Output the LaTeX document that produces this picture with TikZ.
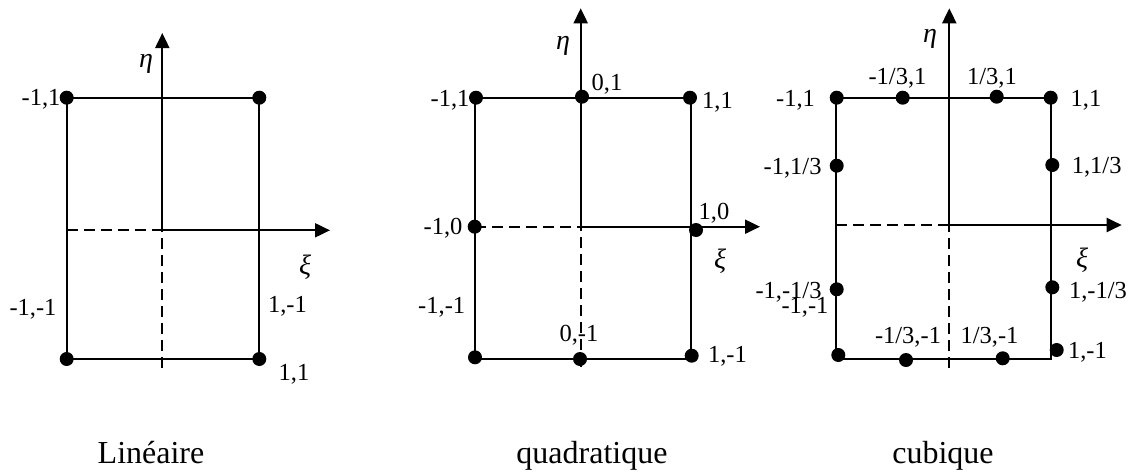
\documentclass[tikz,border=0pt]{standalone}
\usepackage{fontspec}
\setmainfont{Liberation Serif}
\usetikzlibrary{arrows.meta}
\begin{document}
\begin{tikzpicture}[x=1pt,y=-1pt,
  edge/.style={line width=2pt},
  dashedge/.style={line width=1.8pt, dash pattern=on 11pt off 6pt},
  axis/.style={line width=2pt,-{Triangle[length=15pt,width=14pt]}},
  dot/.style={circle,fill=black,inner sep=0pt,minimum size=14pt},
  lab/.style={font=\fontsize{24.5}{26}\selectfont,inner sep=0pt,anchor=base},
  labe/.style={lab,anchor=base east},
  captxt/.style={font=\fontsize{32}{36}\selectfont,inner sep=0pt,anchor=base},
  greek/.style={font=\fontsize{28}{30}\selectfont\itshape,inner sep=0pt,anchor=base}]
\useasboundingbox (0,0) rectangle (1138,474);

% ---------- Linéaire ----------
\coordinate (A1) at (66.7,97.7);
\coordinate (B1) at (259.3,97.7);
\coordinate (C1) at (259.3,359);
\coordinate (D1) at (66.7,359);
\draw[edge] (A1) -- (B1) -- (C1) -- (D1) -- cycle;
\coordinate (O1) at (162.3,230.3);
\coordinate (Yb1) at (162.3,368);
\coordinate (Yt1) at (162.3,33);
\coordinate (Xl1) at (66.7,230.3);
\coordinate (Xr1) at (330,230.3);
\draw[dashedge] (Yb1) -- (O1);
\draw[axis] (O1) -- (Yt1);
\draw[dashedge] (Xl1) -- (O1);
\draw[axis] (O1) -- (Xr1);
\node[dot] (p1a) at (A1) {};
\node[dot] (p1b) at (B1) {};
\node[dot] (p1c) at (C1) {};
\node[dot] (p1d) at (D1) {};
\node[lab] (l1a) at (41,105) {-1,1};
\node[lab] (l1b) at (33,315) {-1,-1};
\node[lab] (l1c) at (287.5,312) {1,-1};
\node[lab] (l1d) at (294,380) {1,1};
\node[greek] (eta1) at (146,67) {η};
\node[greek] (xi1) at (305,274) {ξ};
\node[captxt] (cap1) at (151,463) {Linéaire};

% ---------- quadratique ----------
\coordinate (A2) at (475,97.7);
\coordinate (B2) at (690.7,97.7);
\coordinate (C2) at (690.7,359);
\coordinate (D2) at (475,359);
\draw[edge] (A2) -- (B2) -- (C2) -- (D2) -- cycle;
\coordinate (O2) at (580.7,226.7);
\coordinate (Yb2) at (580.7,367);
\coordinate (Yt2) at (580.7,8.3);
\coordinate (Xl2) at (475,226.7);
\coordinate (Xr2) at (760,226.7);
\draw[dashedge] (Yb2) -- (O2);
\draw[axis] (O2) -- (Yt2);
\draw[dashedge] (Xl2) -- (O2);
\draw[axis] (O2) -- (Xr2);
\node[dot] (p2a) at (476,97.7) {};
\node[dot] (p2b) at (582,96.7) {};
\node[dot] (p2c) at (690,97.7) {};
\node[dot] (p2d) at (474.7,226.7) {};
\node[dot] (p2e) at (696,230) {};
\node[dot] (p2f) at (580,359) {};
\node[dot] (p2g) at (475,357.3) {};
\node[dot] (p2h) at (691.7,355.7) {};
\node[lab] (l2a) at (450,106) {-1,1};
\node[lab] (l2b) at (607,90) {0,1};
\node[lab] (l2c) at (717.5,108) {1,1};
\node[lab] (l2d) at (443,234.7) {-1,0};
\node[lab] (l2e) at (714,219.7) {1,0};
\node[lab] (l2f) at (441.7,313) {-1,-1};
\node[lab] (l2g) at (579,341) {0,-1};
\node[lab] (l2h) at (727.5,362) {1,-1};
\node[greek] (eta2) at (563,49) {η};
\node[greek] (xi2) at (720,268) {ξ};
\node[captxt] (cap2) at (592,463) {quadratique};

% ---------- cubique ----------
\coordinate (A3) at (836,97.7);
\coordinate (B3) at (1050.7,97.7);
\coordinate (C3) at (1050.7,359);
\coordinate (D3) at (836,359);
\draw[edge] (A3) -- (B3) -- (C3) -- (D3) -- cycle;
\coordinate (O3) at (949.3,225);
\coordinate (Yb3) at (949.3,368);
\coordinate (Yt3) at (949.3,8.3);
\coordinate (Xl3) at (836,225);
\coordinate (Xr3) at (1121.7,225);
\draw[dashedge] (Yb3) -- (O3);
\draw[axis] (O3) -- (Yt3);
\draw[dashedge] (Xl3) -- (O3);
\draw[axis] (O3) -- (Xr3);
\node[dot] (p3a) at (836.7,97.7) {};
\node[dot] (p3b) at (902.7,97.7) {};
\node[dot] (p3c) at (996.7,96.7) {};
\node[dot] (p3d) at (1050.7,97.7) {};
\node[dot] (p3e) at (836.7,165.7) {};
\node[dot] (p3f) at (836.7,289.3) {};
\node[dot] (p3g) at (1052.3,165) {};
\node[dot] (p3h) at (1052.3,287.3) {};
\node[dot] (p3i) at (838.3,355) {};
\node[dot] (p3j) at (906,360) {};
\node[dot] (p3k) at (1002.7,358.3) {};
\node[dot] (p3l) at (1056.7,350) {};
\node[lab] (l3a) at (897.5,84) {-1/3,1};
\node[lab] (l3b) at (992,84) {1/3,1};
\node[lab] (l3c) at (795.5,106) {-1,1};
\node[lab] (l3d) at (1086,106) {1,1};
\node[labe] (l3e) at (821.7,174) {-1,1/3};
\node[lab] (l3f) at (1096.7,173) {1,1/3};
\node[labe] (l3g) at (821.7,298.5) {-1,-1/3};
\node[lab] (l3h) at (805,313) {-1,-1};
\node[lab] (l3i) at (1098,298) {1,-1/3};
\node[lab] (l3j) at (908,343) {-1/3,-1};
\node[lab] (l3k) at (989.5,343) {1/3,-1};
\node[lab] (l3l) at (1087.5,358) {1,-1};
\node[greek] (eta3) at (930,42) {η};
\node[greek] (xi3) at (1082,267) {ξ};
\node[captxt] (cap3) at (943,463) {cubique};
\end{tikzpicture}
\end{document}
